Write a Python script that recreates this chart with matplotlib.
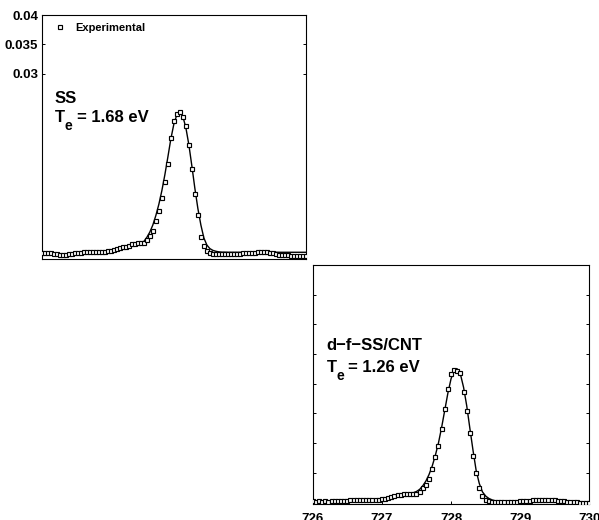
import matplotlib
matplotlib.use("Agg")
import matplotlib.pyplot as plt
import numpy as np

plt.rcParams['font.family'] = ['Liberation Sans', 'DejaVu Sans']
plt.rcParams['font.weight'] = 'bold'

# photon energy grid (eV), same sampling for both spectra
energy = np.linspace(726, 730, 89)

# intensities, in units of 1e-3
ss_exp = [-0.4, -0.4, -0.4, -0.4, -0.45, -0.45, -0.6, -0.65, -0.6, -0.5,
          -0.45, -0.4, -0.35, -0.3, -0.25, -0.2, -0.15, -0.15, -0.15, -0.1,
          -0.1, -0.1, -0.05, 0.0, 0.1, 0.3, 0.45, 0.6, 0.7, 0.9,
          1.1, 1.2, 1.3, 1.35, 1.4, 1.9, 2.6, 3.4, 5.0, 6.8,
          9.0, 11.7, 14.8, 19.2, 22.0, 23.3, 23.5, 22.7, 21.1, 17.9,
          13.9, 9.7, 6.1, 2.4, 0.8, 0.0, -0.4, -0.55, -0.55, -0.55,
          -0.55, -0.5, -0.5, -0.5, -0.45, -0.45, -0.45, -0.4, -0.4, -0.4,
          -0.35, -0.3, -0.25, -0.2, -0.2, -0.25, -0.3, -0.4, -0.5, -0.6,
          -0.65, -0.7, -0.75, -0.8, -0.8, -0.85, -0.85, -0.9, -0.9]
ss_fit = [-0.4, -0.4, -0.4, -0.4, -0.45, -0.5, -0.55, -0.55, -0.55, -0.5,
          -0.45, -0.4, -0.35, -0.3, -0.25, -0.2, -0.15, -0.15, -0.1, -0.1,
          -0.1, -0.05, 0.0, 0.05, 0.15, 0.3, 0.45, 0.6, 0.75, 0.9,
          1.05, 1.2, 1.3, 1.4, 1.6, 2.3, 3.2, 4.4, 6.0, 7.9,
          10.2, 12.9, 15.9, 19.0, 21.5, 23.1, 23.5, 22.8, 20.9, 18.0,
          14.4, 10.6, 7.2, 4.4, 2.2, 1.0, 0.4, 0.1, -0.05, -0.15,
          -0.2, -0.2, -0.22, -0.22, -0.22, -0.22, -0.22, -0.22, -0.22, -0.22,
          -0.22, -0.22, -0.22, -0.22, -0.22, -0.22, -0.22, -0.22, -0.22, -0.22,
          -0.22, -0.22, -0.22, -0.22, -0.22, -0.22, -0.22, -0.22, -0.22]

cnt_exp = [0.2, 0.15, 0.2, 0.15, 0.2, 0.15, 0.2, 0.2, 0.2, 0.25,
           0.3, 0.3, 0.35, 0.35, 0.4, 0.4, 0.4, 0.45, 0.45, 0.5,
           0.5, 0.5, 0.55, 0.6, 0.8, 1.0, 1.1, 1.2, 1.3, 1.4,
           1.5, 1.5, 1.45, 1.5, 1.8, 2.5, 3.0, 4.0, 5.6, 7.6,
           9.6, 12.3, 15.7, 19.2, 21.6, 22.3, 22.2, 21.8, 18.6, 15.4,
           11.7, 7.9, 4.9, 2.4, 1.1, 0.5, 0.25, 0.15, 0.1, 0.1,
           0.1, 0.1, 0.1, 0.1, 0.1, 0.15, 0.2, 0.25, 0.3, 0.3,
           0.35, 0.4, 0.4, 0.45, 0.45, 0.4, 0.4, 0.35, 0.3, 0.25,
           0.2, 0.15, 0.1, 0.05, 0.05, 0.0, -0.05, -0.1, -0.1]
cnt_fit = [0.2, 0.2, 0.2, 0.2, 0.2, 0.2, 0.2, 0.2, 0.2, 0.25,
           0.3, 0.3, 0.35, 0.35, 0.4, 0.4, 0.4, 0.45, 0.45, 0.5,
           0.5, 0.5, 0.55, 0.65, 0.8, 1.0, 1.1, 1.2, 1.3, 1.4,
           1.5, 1.55, 1.65, 1.85, 2.2, 2.8, 3.6, 4.7, 6.1, 7.9,
           10.0, 12.6, 15.5, 18.4, 20.8, 22.3, 22.5, 21.6, 19.4, 16.3,
           12.5, 8.8, 5.4, 3.2, 1.8, 1.1, 0.7, 0.45, 0.3, 0.2,
           0.15, 0.15, 0.15, 0.15, 0.15, 0.2, 0.2, 0.25, 0.3, 0.3,
           0.35, 0.4, 0.4, 0.45, 0.45, 0.4, 0.4, 0.35, 0.3, 0.25,
           0.2, 0.15, 0.1, 0.05, 0.05, 0.0, -0.05, -0.1, -0.1]

top_yticks = [0.03, 0.035, 0.04]
top_ylabels = ['0.03', '0.035', '0.04']
bot_yticks = [0.005, 0.01, 0.015, 0.02, 0.025, 0.03, 0.035, 0.04]
xticks = [726, 727, 728, 729, 730]

W, H = 599, 520
fig = plt.figure(figsize=(W / 100, H / 100), dpi=100)

def px_axes(l, t, r, b):
    return fig.add_axes([l / W, 1 - b / H, (r - l) / W, (b - t) / H])

def px_text(x, y, s, size):
    fig.text(x / W, 1 - y / H, s, fontsize=size, fontweight='bold',
             va='baseline', ha='left')

ax1 = px_axes(41.7, 15, 306, 259)
ax2 = px_axes(312.7, 265, 589.3, 504.3)

for ax, exp, fit in [(ax1, ss_exp, ss_fit), (ax2, cnt_exp, cnt_fit)]:
    ax.plot(energy, np.array(fit) * 1e-3, color='black', lw=1.0, zorder=2)
    ax.plot(energy, np.array(exp) * 1e-3, ls='none', marker='s', ms=3.4,
            mfc='white', mec='black', mew=0.85, zorder=3, label='Experimental')
    ax.set_xlim(726, 730)
    ax.tick_params(direction='in', length=2.5, width=0.7, right=True,
                   labelsize=9.5, colors='black')
    for s in ax.spines.values():
        s.set_linewidth(0.8)

ax1.set_ylim(-0.00136, 0.04)
ax1.set_yticks(top_yticks)
ax1.set_yticklabels(top_ylabels, fontweight='bold')
ax1.tick_params(axis='y', pad=2.5)
ax1.set_xticks([])
ax1.legend(loc='upper left', bbox_to_anchor=(0.02, 1.0), frameon=False,
           handlelength=1.0, handletextpad=0.8, borderaxespad=0.3,
           prop={'size': 8, 'weight': 'bold'})

ax2.set_ylim(-0.0003, 0.04)
ax2.set_yticks(bot_yticks)
ax2.set_yticklabels([])
ax2.set_xticks(xticks)
ax2.set_xticklabels([str(v) for v in xticks], fontweight='bold')
ax2.tick_params(axis='x', pad=6.5)

# annotations: sample name and electron temperature, T with subscript e
px_text(55, 103, 'SS', 12)
px_text(55, 121.7, 'T', 12)
px_text(64.5, 130.5, 'e', 10)
px_text(77, 121.7, '= 1.68 eV', 12)

px_text(326.7, 350, 'd\u2212f\u2212SS/CNT', 12)
px_text(326.7, 371.7, 'T', 12)
px_text(336.2, 380.5, 'e', 10)
px_text(348.5, 371.7, '= 1.26 eV', 12)

fig.savefig('out.png', dpi=100)
